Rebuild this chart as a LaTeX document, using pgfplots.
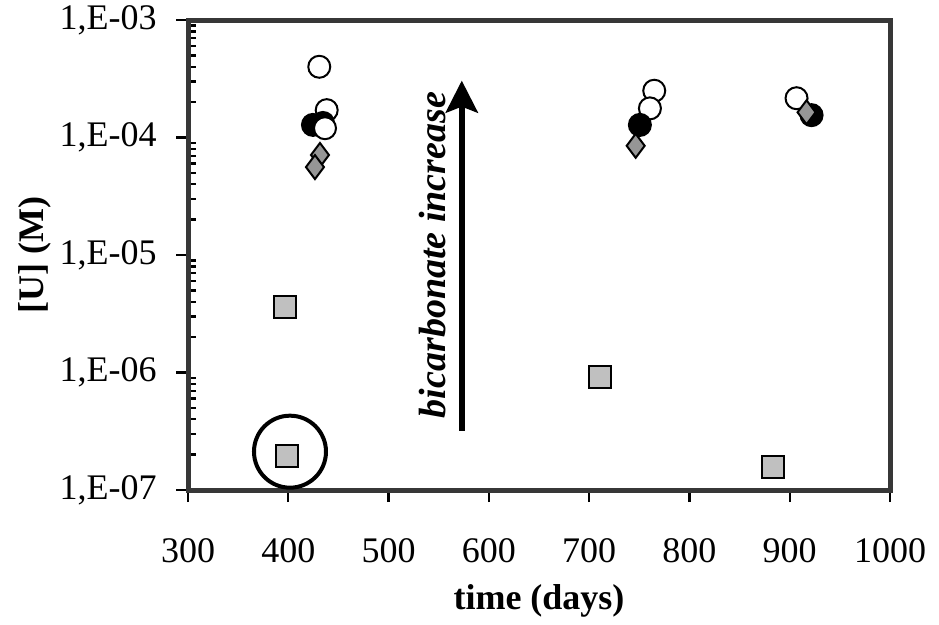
\documentclass[border=0pt]{standalone}
\usepackage{fontspec}
\setmainfont{Liberation Serif}
\usepackage{pgfplots}
\pgfplotsset{compat=1.18}
\usetikzlibrary{arrows.meta}

\definecolor{frame}{RGB}{55,55,55}
\definecolor{sqfill}{RGB}{192,192,192}
\definecolor{dmfill}{RGB}{150,150,150}

\begin{document}
\begin{tikzpicture}
\begin{axis}[
    scale only axis,
    width=351bp, height=235bp,
    xmin=300, xmax=1000,
    ymode=log, ymin=1e-7, ymax=1e-3,
    xtick={300,400,...,1000},
    ytick={1e-7,1e-6,1e-5,1e-4,1e-3},
    yticklabels={{1,E-07},{1,E-06},{1,E-05},{1,E-04},{1,E-03}},
    minor ytick={2e-7,3e-7,4e-7,5e-7,6e-7,7e-7,8e-7,9e-7,
                 2e-6,3e-6,4e-6,5e-6,6e-6,7e-6,8e-6,9e-6,
                 2e-5,3e-5,4e-5,5e-5,6e-5,7e-5,8e-5,9e-5,
                 2e-4,3e-4,4e-4,5e-4,6e-4,7e-4,8e-4,9e-4},
    xtick pos=lower, ytick pos=left,
    tick align=outside,
    major tick length=6bp,
    minor tick length=4bp,
    minor y tick style={xshift=4bp},
    tick style={black, line width=1.2bp},
    axis line style={frame, line width=2.5bp},
    /pgf/number format/assume math mode=true,
    /pgf/number format/1000 sep={},
    tick label style={font=\fontsize{18bp}{21bp}\selectfont, inner sep=0pt},
    xticklabel style={anchor=base, yshift=-30bp},
    yticklabel style={anchor=east, xshift=-9.5bp},
    xlabel={time (days)},
    ylabel={[U] (M)},
    label style={font=\fontsize{18bp}{21bp}\selectfont\bfseries},
    xlabel style={at={(axis description cs:0.5,-0.255)}, anchor=base},
    ylabel style={at={(axis description cs:-0.218,0.5)}, anchor=center},
    clip=false,
]
% open circles
\addplot[only marks, mark=*, mark size=5.5bp,
    mark options={fill=white, draw=black, line width=1bp}] coordinates {
    (430.9,4.0e-4)(438.3,1.71e-4)(764.9,2.5e-4)(760.6,1.77e-4)(906.8,2.16e-4)
};
% filled circles
\addplot[only marks, mark=*, mark size=5.5bp,
    mark options={fill=black, draw=black, line width=1bp}] coordinates {
    (424.6,1.28e-4)(434.6,1.33e-4)(750.6,1.28e-4)(921.8,1.55e-4)
};
\addplot[only marks, mark=*, mark size=5.5bp,
    mark options={fill=white, draw=black, line width=1bp}] coordinates {
    (436.6,1.2e-4)
};
% diamonds
\addplot[only marks, mark=diamond*, mark size=6bp,
    mark options={fill=dmfill, draw=black, line width=1bp}] coordinates {
    (431.6,7.1e-5)(426.6,5.6e-5)(746.4,8.5e-5)(916.8,1.64e-4)
};
% squares
\addplot[only marks, mark=square*, mark size=5.5bp,
    mark options={fill=sqfill, draw=black, line width=1bp}] coordinates {
    (396.4,3.63e-6)(398.7,1.96e-7)(710.8,9.1e-7)(883.6,1.56e-7)
};
% highlighted point
\addplot[only marks, mark=o, mark size=18bp,
    mark options={draw=black, line width=2bp}] coordinates {
    (401.7,2.12e-7)
};
\draw[line width=3bp, -{Stealth[width=16bp, length=16bp, inset=3bp]}]
    (axis cs:573,3.2e-7) -- (axis cs:573,3.05e-4);
\node[rotate=90, font=\fontsize{19bp}{22bp}\selectfont\bfseries\itshape]
    at (axis cs:544,1e-5) {bicarbonate increase};
\end{axis}
\path ([xshift=-94bp, yshift=-67bp]current axis.south west)
    rectangle ([xshift=24.5bp, yshift=10bp]current axis.north east);
\end{tikzpicture}
\end{document}
